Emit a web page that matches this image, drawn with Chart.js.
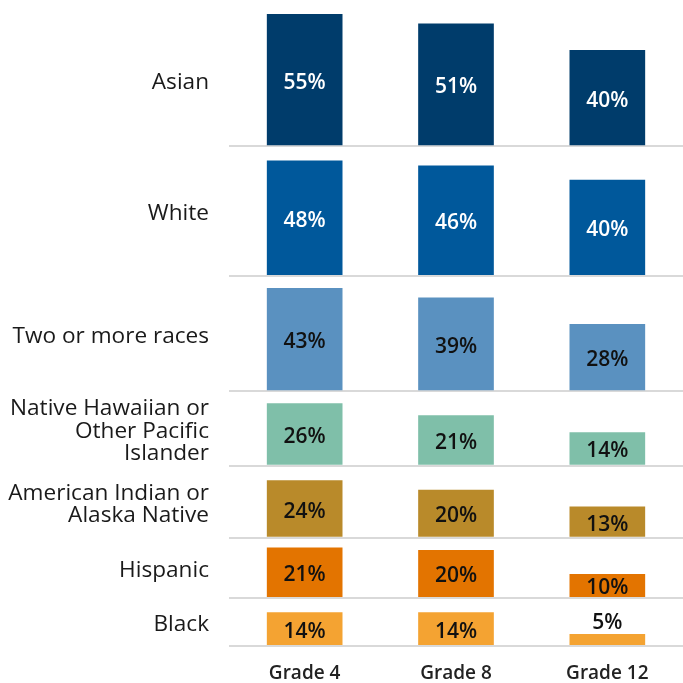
<!DOCTYPE html>
<html><head><meta charset="utf-8">
<script src="https://cdn.jsdelivr.net/npm/chart.js@4"></script>
<style>html,body{margin:0;padding:0;background:#fff}#wrap{width:683px;height:683px;position:relative}</style>
</head><body><div id="wrap"><canvas id="c"></canvas></div>
<script>
const grades = ['Grade 4', 'Grade 8', 'Grade 12'];
const groupLabels = [
  ['Asian'],
  ['White'],
  ['Two or more races'],
  ['Native Hawaiian or', 'Other Pacific', 'Islander'],
  ['American Indian or', 'Alaska Native'],
  ['Hispanic'],
  ['Black']
];
const asian = [55, 51, 40];
const white = [48, 46, 40];
const twoOrMore = [43, 39, 28];
const nhpi = [26, 21, 14];
const aian = [24, 20, 13];
const hispanic = [21, 20, 10];
const black = [14, 14, 5];
const seriesValues = [asian, white, twoOrMore, nhpi, aian, hispanic, black];
const rowMax = [55, 54, 48, 31, 30, 25, 20];
const barColors = ['#003c6b', '#00589b', '#5a91c0', '#7fbfa9', '#b98a2a', '#e37400', '#f4a332'];
const valueColors = ['#ffffff', '#ffffff', '#111111', '#111111', '#111111', '#111111', '#111111'];

const FONT = '"Open Sans", "Noto Sans", sans-serif';

const datasets = seriesValues.map((vals, i) => ({
  label: groupLabels[i].join(' '),
  data: vals,
  yAxisID: 'y' + i,
  backgroundColor: barColors[i],
  borderWidth: 0,
  grouped: false,
  barPercentage: 0.5,
  categoryPercentage: 1
}));

const scales = {
  x: {
    type: 'category',
    labels: grades,
    grid: { display: false },
    border: { display: false },
    ticks: { color: '#222', font: { family: FONT, size: 19, weight: '600' }, padding: 8 },
    afterFit: s => { s.height = 37; s.paddingLeft = 0; s.paddingRight = 0; }
  }
};
seriesValues.forEach((vals, i) => {
  scales['y' + i] = {
    type: 'linear',
    position: 'left',
    stack: 'rows',
    stackWeight: rowMax[i],
    weight: seriesValues.length - i,
    min: 0,
    max: rowMax[i],
    border: { display: false },
    grid: {
      drawTicks: false,
      lineWidth: 2,
      color: ctx => (ctx.tick && ctx.tick.value === 0) ? '#d9d9d9' : 'rgba(0,0,0,0)'
    },
    afterBuildTicks: s => { s.ticks = [{ value: 0 }, { value: s.max / 2 - 1.2 }]; },
    afterFit: s => { s.width = 229; s.paddingTop = 0; s.paddingBottom = 0; },
    ticks: {
      autoSkip: false,
      padding: 20,
      color: '#1a1a1a',
      font: { family: FONT, size: 22.6, lineHeight: '22.5px' },
      callback: (v) => v === 0 ? '' : groupLabels[i]
    }
  };
});

const valueLabels = {
  id: 'valueLabels',
  afterDatasetsDraw(chart) {
    const ctx = chart.ctx;
    chart.data.datasets.forEach((ds, i) => {
      const meta = chart.getDatasetMeta(i);
      meta.data.forEach((bar, j) => {
        const v = ds.data[j];
        const h = bar.base - bar.y;
        ctx.save();
        ctx.font = '600 21px ' + FONT;
        ctx.textAlign = 'center';
        ctx.textBaseline = 'middle';
        if (h < 18) {
          ctx.fillStyle = '#111111';
          ctx.fillText(v + '%', bar.x, bar.y - 11);
        } else {
          ctx.fillStyle = valueColors[i];
          ctx.fillText(v + '%', bar.x, (bar.y + bar.base) / 2 + 3);
        }
        ctx.restore();
      });
    });
  }
};

new Chart(document.getElementById('c'), {
  type: 'bar',
  data: { labels: grades, datasets },
  options: {
    responsive: true,
    maintainAspectRatio: false,
    animation: false,
    layout: { padding: { top: 14, left: 0, right: 0, bottom: 0 } },
    plugins: { legend: { display: false }, tooltip: { enabled: false } },
    scales
  },
  plugins: [valueLabels]
});
</script>
</body></html>
